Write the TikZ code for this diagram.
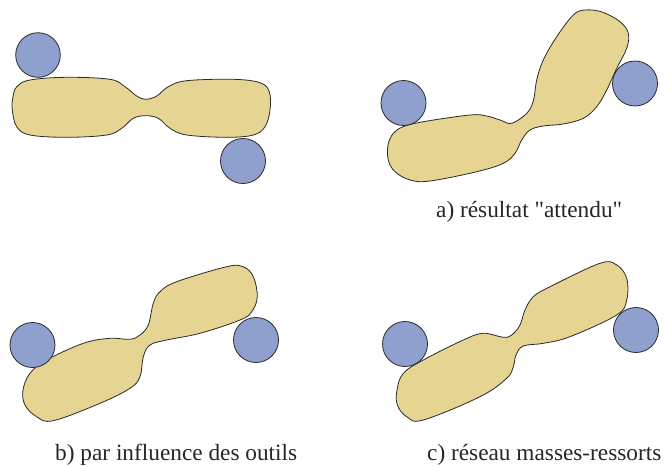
\documentclass[tikz,border=0pt]{standalone}
\usepackage{fontspec}
\setmainfont{Liberation Serif}[Ligatures=TeXOff]
\definecolor{bodyfill}{HTML}{E6D493}
\definecolor{toolfill}{HTML}{90A0CE}
\definecolor{edge}{HTML}{2A2A2A}
\tikzset{
  body/.style={fill=bodyfill, draw=edge, line width=0.8pt},
  tool/.style={fill=toolfill, draw=edge, line width=0.8pt},
  caption/.style={anchor=base west, inner sep=0pt, font=\fontsize{23.3}{27}\selectfont, text=black!85}
}
\begin{document}
\begin{tikzpicture}[x=1pt,y=-1pt]
\useasboundingbox (0,0) rectangle (664,466);
% ---- figure 1 (top left)
\draw[body] plot[smooth cycle, tension=0.6] coordinates {
 (16.7,86.7) (30,80) (66.7,77.3) (110,79.3) (125,86.7) (136.7,96) (145.7,99.3)
 (156.7,96) (168.3,86.7) (186.7,80.7) (233.3,79.3) (260,82.7) (269.3,91.7)
 (270,110) (265,126.7) (253.3,135) (226.7,137.3) (186.7,135) (170,128.3)
 (158.3,118.3) (145.7,115.7) (133.3,118.3) (121.7,128.3) (106.7,135) (66.7,137.3)
 (30,135) (16.7,126.7) (12.3,110) (12.7,98.3)};
\draw[tool] (38,55) circle (22.3);
\draw[tool] (243,161) circle (22.5);
% ---- figure a (top right)
\draw[body] plot[smooth cycle, tension=0.6] coordinates {
 (388,145) (393.3,133.3) (403.3,126.7) (423.3,121.7) (470,115) (486.7,116)
 (500,120) (511.7,123.3) (526.7,113.3) (533.3,101) (536.7,80) (543.3,60)
 (556.7,36.7) (573.3,15) (585,10) (602,12) (620,21.7) (628.3,33.3)
 (626.7,48.3) (616.7,68.3) (606.7,90) (596.7,106.7) (583.3,118.3) (563.3,124)
 (543.3,126) (530,130) (521.7,140) (515,153.3) (503.3,163.3) (476.7,171.7)
 (430,181) (410,180) (395,171.7) (388.3,160)};
\draw[tool] (403.5,103) circle (22.5);
\draw[tool] (635,83.5) circle (22.5);
\node[caption] (capa) at (436,217) {a) résultat "attendu"};
% ---- figure b (bottom left)
\draw[body] plot[smooth cycle, tension=0.6] coordinates {
 (23,390) (30,373.3) (46.7,360) (83.3,343.3) (110,338.3) (130,339.3)
 (140,335) (148.3,325) (153.3,303.3) (160,291.7) (176.7,281.7) (226.7,266.7)
 (243.3,266.7) (253.3,276.7) (257.3,296.7) (251.7,311.7) (240,320) (200,333.3)
 (166.7,340) (150,345) (143.3,356.7) (140,376.7) (130,388.3) (100,403.3)
 (53.3,420.7) (36.7,416.7) (25,405)};
\draw[tool] (32.5,345) circle (22.5);
\draw[tool] (256,340) circle (22.5);
\node[caption] (capb) at (55,460) {b) par influence des outils};
% ---- figure c (bottom right)
\draw[body] plot[smooth cycle, tension=0.6] coordinates {
 (397,390) (403.3,373.3) (423.3,360) (463.3,340) (483.3,333.3) (503.3,337.3)
 (511.7,335) (520,325) (525,310) (533.3,296.7) (550,286.7) (600,263.3)
 (616.7,265) (626.7,278.3) (626.7,300) (616.7,315) (570,336.7) (543.3,343.3)
 (523.3,346) (516,355) (513.3,366.7) (506.7,378.3) (480,396.7) (423.3,420)
 (406.7,416.7) (397.3,405)};
\draw[tool] (405,344) circle (22.5);
\draw[tool] (636,330) circle (22.5);
\node[caption] (capc) at (427,460) {c) réseau masses-ressorts};
\end{tikzpicture}
\end{document}
